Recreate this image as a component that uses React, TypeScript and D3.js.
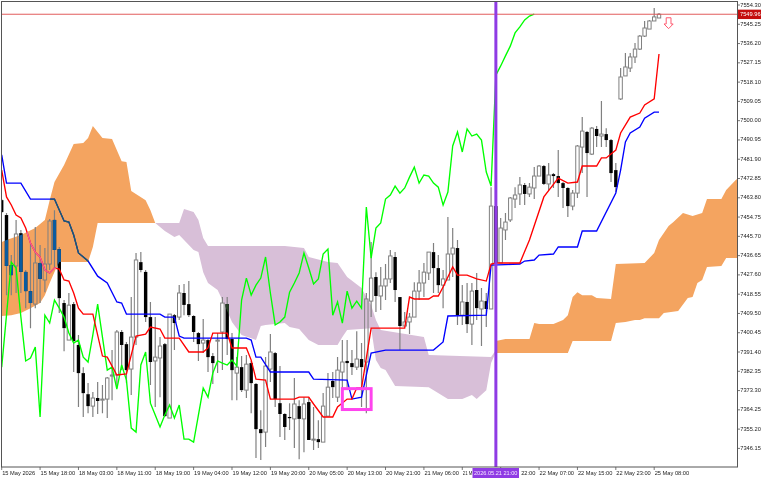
import React from "react";
import * as d3 from "d3";

const highs = [7463.2,7456.6,7436.9,7453.4,7448.7,7429.9,7442.6,7450.1,7441.6,7440.2,7453.8,7458.0,7440.7,7415.8,7419.1,7414.9,7399.4,7384.3,7376.8,7372.6,7377.3,7375.9,7379.7,7392.3,7401.7,7401.7,7396.1,7417.2,7437.9,7438.3,7429.9,7414.9,7407.8,7398.4,7395.6,7409.2,7409.2,7422.8,7423.3,7424.7,7408.7,7400.8,7406.9,7397.5,7390.9,7400.3,7417.2,7417.2,7400.3,7389.0,7389.5,7390.0,7387.2,7376.8,7364.1,7389.0,7399.8,7391.4,7384.8,7362.7,7367.4,7379.2,7368.8,7370.2,7370.2,7365.6,7359.4,7372.1,7381.5,7382.0,7389.0,7397.0,7397.0,7392.3,7401.2,7395.6,7419.1,7443.0,7428.9,7431.3,7432.7,7439.3,7438.3,7417.2,7410.2,7409.7,7424.2,7429.9,7433.2,7438.3,7442.6,7436.9,7429.9,7454.8,7449.6,7444.0,7422.8,7423.8,7423.8,7428.5,7421.4,7419.1,7468.8,7462.7,7454.3,7456.6,7464.2,7468.8,7473.5,7470.7,7470.7,7478.2,7479.2,7479.2,7480.1,7475.4,7486.2,7471.2,7468.8,7467.4,7488.6,7501.7,7495.1,7497.0,7497.5,7509.2,7496.5,7491.4,7480.1,7524.7,7531.8,7531.8,7536.5,7540.2,7546.8,7547.3,7552.9,7550.5];
const lows = [7456.6,7418.1,7418.1,7419.1,7419.1,7412.0,7402.6,7412.0,7414.4,7419.5,7429.9,7430.8,7409.7,7391.8,7397.0,7382.0,7365.6,7360.9,7362.7,7360.9,7362.3,7362.7,7360.4,7368.8,7374.5,7382.9,7376.8,7371.2,7394.7,7428.9,7405.5,7375.9,7365.6,7370.2,7360.9,7360.4,7392.3,7406.4,7408.7,7407.8,7396.1,7387.2,7390.9,7382.0,7376.4,7381.5,7382.9,7390.0,7368.8,7368.8,7372.6,7369.8,7362.7,7341.6,7340.7,7346.8,7377.3,7365.6,7351.5,7350.1,7354.8,7346.3,7341.1,7344.4,7350.1,7345.4,7346.3,7349.1,7361.3,7369.8,7367.9,7372.6,7374.9,7380.6,7382.9,7365.6,7362.7,7407.8,7410.2,7411.1,7415.8,7423.8,7414.9,7392.3,7403.6,7399.8,7407.8,7415.8,7417.2,7425.2,7419.1,7419.1,7412.0,7425.2,7426.6,7404.1,7404.1,7400.3,7394.7,7406.4,7394.2,7403.1,7411.6,7433.2,7433.2,7444.0,7452.4,7459.0,7460.4,7460.4,7464.2,7463.2,7474.0,7469.8,7467.4,7468.4,7464.2,7459.0,7454.8,7458.0,7463.7,7475.4,7464.2,7483.9,7487.6,7487.6,7487.6,7471.2,7466.5,7509.7,7521.0,7522.9,7527.1,7533.2,7539.3,7543.0,7546.8,7548.2];
const opens = [7462.7,7455.7,7432.2,7431.8,7447.2,7429.0,7420.0,7413.9,7433.2,7425.2,7432.7,7453.4,7439.7,7414.4,7397.0,7413.9,7394.7,7381.5,7371.6,7366.0,7369.8,7368.8,7369.3,7380.1,7380.6,7400.8,7395.1,7383.4,7398.4,7433.6,7429.0,7407.8,7387.2,7388.6,7395.1,7360.4,7408.7,7407.8,7419.1,7413.9,7408.3,7400.3,7395.6,7397.0,7389.5,7396.5,7400.8,7413.9,7397.5,7381.5,7384.3,7373.5,7386.2,7376.4,7355.2,7353.8,7383.4,7390.9,7367.4,7362.3,7360.9,7360.0,7366.0,7360.0,7367.9,7350.1,7350.5,7349.1,7361.3,7377.8,7370.2,7382.0,7387.2,7386.2,7384.3,7388.1,7386.7,7415.3,7426.6,7417.7,7422.4,7425.7,7436.0,7417.2,7403.6,7405.5,7407.8,7420.0,7423.8,7428.5,7438.3,7430.8,7422.8,7425.2,7437.4,7440.2,7408.7,7414.9,7404.5,7420.5,7411.6,7415.3,7411.6,7459.9,7433.2,7448.7,7453.4,7463.2,7465.6,7469.8,7465.6,7468.4,7474.0,7478.7,7470.3,7474.9,7474.0,7470.7,7468.4,7459.9,7466.0,7487.6,7494.7,7484.3,7496.1,7492.8,7493.7,7490.9,7476.8,7510.2,7521.0,7524.7,7529.9,7533.6,7539.7,7543.0,7546.8,7548.2];
const closes = [7457.1,7431.8,7427.5,7446.8,7429.0,7420.0,7414.4,7433.2,7425.7,7432.7,7452.9,7439.3,7416.7,7402.6,7413.4,7396.5,7381.5,7372.1,7366.0,7369.8,7368.4,7369.3,7379.2,7380.6,7400.8,7394.7,7382.9,7398.4,7434.6,7429.9,7407.8,7386.7,7389.0,7394.2,7361.3,7409.2,7405.0,7419.1,7413.5,7408.7,7400.8,7395.1,7397.0,7389.0,7386.2,7397.0,7414.4,7397.5,7382.9,7384.3,7373.5,7385.7,7376.8,7355.2,7353.3,7384.8,7391.4,7369.3,7362.3,7356.2,7360.4,7367.0,7360.0,7367.0,7350.1,7350.5,7349.1,7366.0,7374.9,7374.9,7382.9,7386.7,7386.2,7384.3,7388.1,7384.3,7416.3,7426.1,7417.7,7422.4,7425.7,7436.5,7420.5,7403.6,7405.5,7407.8,7420.0,7423.8,7428.9,7438.3,7430.8,7422.8,7425.7,7437.4,7440.2,7408.7,7414.9,7404.5,7420.0,7412.0,7415.3,7411.6,7459.9,7433.2,7449.6,7452.4,7463.7,7465.1,7469.8,7465.6,7468.8,7474.0,7478.7,7470.3,7474.5,7474.0,7470.7,7468.4,7459.9,7466.0,7488.1,7495.1,7484.8,7496.5,7492.8,7493.7,7490.9,7475.4,7468.8,7520.5,7525.2,7529.9,7533.6,7539.7,7543.5,7546.8,7548.7,7549.96];

const tenkanBars = [0,1,2,3,4,5,6,7,8,9,10,11,12,13,14,15,16,17,19,21,22,24,26,28,30,31,33,34,37,39,42,43,44,47,48,51,52,53,55,56,61,62,64,65,67,69,70,72,73,74,75,77,84,85,86,89,90,91,92,94,95,97,99,101,102,103,108,110,113,116,118,120,121,124,125,126,128,129,131,133,134,136,137];
const tenkan = [7476.8,7464.2,7460.4,7455.7,7454.3,7449.6,7442.6,7438.3,7436.0,7429.9,7428.5,7430.8,7430.3,7425.2,7424.7,7419.1,7412.0,7409.2,7409.2,7389.5,7389.0,7380.6,7381.1,7398.9,7399.8,7403.1,7402.2,7397.9,7397.9,7391.4,7391.4,7393.3,7400.3,7400.3,7393.3,7393.3,7387.6,7378.7,7378.2,7369.3,7369.3,7370.2,7370.2,7367.0,7360.9,7360.9,7365.6,7369.3,7369.3,7374.5,7374.5,7402.6,7402.6,7417.2,7416.3,7416.3,7417.7,7417.7,7421.9,7431.3,7427.5,7427.5,7425.7,7424.7,7432.7,7433.2,7433.2,7444.0,7464.2,7473.0,7470.7,7471.2,7478.7,7478.7,7482.5,7482.5,7486.2,7494.2,7501.7,7503.6,7507.4,7510.2,7531.3];

const kijunBars = [0,1,4,6,11,13,14,15,16,18,20,22,24,25,26,33,34,36,37,38,51,52,53,54,56,64,65,72,73,75,77,80,90,92,93,101,102,108,109,111,112,115,116,120,121,124,128,129,130,131,133,134,136,137];
const kijun = [7483.9,7470.7,7470.7,7463.2,7463.2,7452.9,7452.4,7446.3,7437.9,7434.1,7427.0,7423.8,7414.9,7414.4,7409.2,7409.2,7407.8,7407.8,7398.9,7397.9,7397.9,7397.0,7389.0,7389.0,7382.0,7382.0,7378.7,7378.2,7369.3,7370.2,7390.9,7392.3,7392.3,7396.1,7408.3,7408.7,7432.2,7432.7,7434.1,7434.6,7436.9,7437.4,7440.7,7440.7,7448.2,7448.2,7466.0,7476.8,7490.0,7494.2,7497.0,7501.2,7504.0,7504.0];

const chikou = [7384.3,7408.7,7433.6,7430.8,7407.8,7387.2,7388.6,7393.7,7360.9,7408.7,7405.0,7415.8,7412.0,7407.8,7400.3,7395.6,7397.0,7389.0,7386.7,7399.4,7413.9,7398.4,7382.9,7384.3,7374.0,7385.3,7378.2,7355.7,7353.8,7385.3,7391.4,7367.4,7361.8,7356.2,7361.8,7366.5,7360.4,7366.5,7350.5,7350.5,7349.1,7361.8,7374.5,7370.2,7381.5,7387.2,7386.2,7385.3,7387.6,7384.8,7415.8,7426.1,7418.1,7422.8,7426.1,7436.0,7419.1,7404.1,7405.5,7407.8,7419.5,7423.8,7428.5,7437.9,7430.8,7423.3,7425.7,7437.4,7439.7,7408.7,7414.9,7405.0,7420.0,7412.0,7415.3,7412.0,7459.5,7435.5,7449.6,7452.0,7463.2,7465.1,7469.3,7466.0,7468.4,7473.5,7478.2,7470.7,7474.5,7474.0,7470.7,7468.8,7460.4,7466.5,7488.1,7494.7,7485.3,7496.1,7492.8,7493.7,7490.9,7475.9,7469.3,7521.4,7525.7,7530.4,7535.0,7541.2,7544.0,7547.3,7549.1,7550.0];

const bullCloudABars = [0,1,4,7,9,10,11,13,15,17,18,19,21,23,25,26,27,30,31,32];
const bullCloudA = [7443.0,7444.0,7446.3,7449.6,7453.4,7462.7,7471.2,7479.2,7489.0,7489.5,7491.9,7497.5,7491.9,7491.4,7481.0,7480.6,7467.0,7462.7,7458.0,7452.0];
const bullCloudBBars = [0,2,4,6,8,9,10,11,12,18,19,20,32];
const bullCloudB = [7408.3,7408.7,7409.7,7412.0,7414.4,7418.1,7423.8,7429.0,7433.6,7433.6,7440.7,7452.0,7452.0];

const bearCloudBBars = [32,37,38,40,41,42,43,59,63,64,68,70,72,75,76,77,78,79,88,89,102,103];
const bearCloudB = [7452.0,7452.0,7458.5,7457.1,7453.4,7444.9,7441.2,7441.2,7440.2,7436.0,7433.6,7433.2,7426.6,7421.4,7417.2,7413.4,7406.4,7401.7,7398.4,7390.0,7389.0,7392.3];
const bearCloudABars = [32,34,36,37,38,40,41,42,43,45,46,48,50,52,53,54,55,59,60,62,64,66,70,71,72,77,78,79,80,82,89,93,96,98,99,101,102,103];
const bearCloudA = [7452.0,7448.2,7445.4,7446.3,7444.0,7439.3,7438.3,7428.9,7423.8,7420.5,7415.8,7405.5,7399.4,7397.9,7397.0,7403.6,7404.1,7405.0,7403.1,7402.2,7397.0,7394.7,7394.7,7398.4,7401.7,7402.6,7387.6,7383.9,7382.9,7375.4,7374.9,7369.3,7369.3,7371.2,7369.3,7373.5,7386.2,7391.4];

const futureCloudABars = [103,105,110,111,112,115,117,118,119,120,121,123,124,127,128,134,136,137,139,140,142,144,146,147,150,151,153,154];
const futureCloudA = [7396.6,7397.5,7397.5,7405.0,7404.5,7404.5,7406.4,7408.7,7417.2,7419.5,7418.1,7418.1,7416.7,7416.3,7432.7,7433.2,7437.9,7444.0,7450.5,7452.4,7456.6,7455.2,7456.6,7463.2,7463.2,7467.4,7472.1,7474.0];
const futureCloudBBars = [103,118,119,127,128,130,132,133,134,137,138,141,143,144,145,146,147,150,151,153,154];
const futureCloudB = [7390.9,7390.9,7396.6,7396.6,7405.0,7405.5,7406.4,7406.4,7407.3,7407.3,7409.7,7410.6,7416.7,7417.2,7423.8,7425.2,7431.3,7431.8,7435.5,7435.5,7435.5];

const priceTicks = [7554.30,7545.25,7536.20,7527.15,7518.10,7509.05,7500.00,7490.95,7481.90,7472.85,7463.80,7454.75,7445.70,7436.65,7427.60,7418.55,7409.50,7400.45,7391.40,7382.35,7373.30,7364.25,7355.20,7346.15];
// Labels in the picture; the marker tag hides most of the two next to it.
const timeLabels = ["15 May 2026","15 May 18:00","18 May 03:00","18 May 11:00","18 May 19:00","19 May 04:00","19 May 12:00","19 May 20:00","20 May 05:00","20 May 13:00","20 May 21:00","21 May 06:00","21 M","22:00","22 May 07:00","22 May 15:00","22 May 23:00","25 May 08:00"];
const BARS_PER_LABEL = 8;

const lastPrice = 7549.96;
const markerBar = 103;
const markerLabel = "2026.05.21 21:00";
const boxBars = [71, 77];
const boxPrices = [7374.2, 7364.4];
const arrowBar = 139;
const arrowPrices = [7548.3, 7543.2];

const W = 768, H = 480;
const left = 1.5, right = 737.5, top = 1.5, bottom = 467;
const FONT = "'Liberation Sans', Arial, sans-serif";

const x = d3.scaleLinear().domain([0, 137]).range([1.7, 659.0]);
const y = d3.scaleLinear().domain([7554.3, 7346.15]).range([5, 448.4]);

const pts = (bars: number[], vals: number[]) => bars.map((b, i) => [x(b), y(vals[i])] as [number, number]);
const lineGen = d3.line<[number, number]>();
const polyline = (bars: number[], vals: number[]) => lineGen(pts(bars, vals)) as string;
const cloudPath = (aBars: number[], a: number[], bBars: number[], b: number[]) =>
  (lineGen([...pts(aBars, a), ...pts(bBars, b).reverse()]) as string) + "Z";

const bullPath = cloudPath(bullCloudABars, bullCloudA, bullCloudBBars, bullCloudB);
const bearPath = cloudPath(bearCloudBBars, bearCloudB, bearCloudABars, bearCloudA);
const futurePath = cloudPath(futureCloudABars, futureCloudA, futureCloudBBars, futureCloudB);
const tenkanPath = polyline(tenkanBars, tenkan);
const kijunPath = polyline(kijunBars, kijun);
const chikouPath = polyline(chikou.map((_, i) => i), chikou);

const BODY = 3.4;
const GREY = "#808080";
const LINE_W = 1.35;

function Candles() {
  return (
    <g>
      {highs.map((h, i) => {
        const bull = closes[i] >= opens[i];
        const cx = x(i);
        const topY = y(Math.max(opens[i], closes[i]));
        const botY = y(Math.min(opens[i], closes[i]));
        return (
          <g key={i}>
            <line x1={cx} x2={cx} y1={y(h)} y2={topY} stroke={GREY} strokeWidth={1.2} />
            <line x1={cx} x2={cx} y1={botY} y2={y(lows[i])} stroke={GREY} strokeWidth={1.2} />
            {bull ? (
              <rect x={cx - BODY / 2} y={topY} width={BODY} height={Math.max(botY - topY, 1)} fill="none" stroke={GREY} strokeWidth={1} />
            ) : (
              <rect x={cx - BODY / 2} y={topY} width={BODY} height={Math.max(botY - topY, 1.2)} fill="#000" />
            )}
          </g>
        );
      })}
    </g>
  );
}

function BlackBodies({ fill }: { fill: string }) {
  return (
    <g>
      {highs.map((_, i) => {
        if (closes[i] >= opens[i]) return null;
        const topY = y(opens[i]);
        const botY = y(closes[i]);
        return <rect key={i} x={x(i) - BODY / 2} y={topY} width={BODY} height={Math.max(botY - topY, 1.2)} fill={fill} />;
      })}
    </g>
  );
}

export default function App() {
  const lastY = y(lastPrice);
  const mx = x(markerBar);
  const ax = x(arrowBar);
  const a0 = y(arrowPrices[0]);
  const a1 = y(arrowPrices[1]);
  const arrow = lineGen([
    [ax - 2.4, a0], [ax + 2.4, a0], [ax + 2.4, a0 + 6.2], [ax + 4.6, a0 + 6.2],
    [ax, a1], [ax - 4.6, a0 + 6.2], [ax - 2.4, a0 + 6.2],
  ]) + "Z";
  return (
    <svg width={W} height={H} viewBox={`0 0 ${W} ${H}`} style={{ position: "absolute", left: 0, top: 0, background: "#fff" }}>
      <defs>
        <clipPath id="plot"><rect x={left} y={top} width={right - left} height={bottom - top} /></clipPath>
        <clipPath id="bullClip"><path d={bullPath} /></clipPath>
        <clipPath id="bearClip"><path d={bearPath} /></clipPath>
        <filter id="soft" x="0" y="0" width="100%" height="100%" colorInterpolationFilters="sRGB">
          <feGaussianBlur stdDeviation="0.35" />
        </filter>
      </defs>
      <g filter="url(#soft)">
        <rect x={0} y={0} width={W} height={H} fill="#fff" />
        <g clipPath="url(#plot)">
          <path d={bullPath} fill="#f4a460" />
          <path d={bearPath} fill="#d8bfd8" />
          <path d={futurePath} fill="#f4a460" />
          <Candles />
          <g clipPath="url(#bullClip)"><BlackBodies fill="#0b5b9f" /></g>
          <g clipPath="url(#bearClip)"><BlackBodies fill="#274027" /></g>
          <path d={chikouPath} fill="none" stroke="#00ff00" strokeWidth={LINE_W} />
          <path d={kijunPath} fill="none" stroke="#0000ff" strokeWidth={LINE_W} />
          <path d={tenkanPath} fill="none" stroke="#ff0000" strokeWidth={LINE_W} />
          <g clipPath="url(#bullClip)">
            <path d={kijunPath} fill="none" stroke="#1f5f60" strokeWidth={LINE_W} />
            <path d={tenkanPath} fill="none" stroke="#f0609a" strokeWidth={LINE_W} />
          </g>
          <rect
            x={x(boxBars[0])} y={y(boxPrices[0])}
            width={x(boxBars[1]) - x(boxBars[0])} height={y(boxPrices[1]) - y(boxPrices[0])}
            fill="none" stroke="#ff44ee" strokeWidth={3}
          />
          <path d={arrow} fill="#fff" stroke="#ff5a70" strokeWidth={1} />
          <line x1={left} x2={right} y1={lastY} y2={lastY} stroke="#e25c5c" strokeWidth={1} />
          <line x1={mx} x2={mx} y1={top} y2={bottom} stroke="#8f3be4" strokeWidth={3} />
        </g>
        <rect x={left} y={top} width={right - left} height={bottom - top} fill="none" stroke="#555" strokeWidth={1} />
        <g fontFamily={FONT} fontSize={5.7} fill="#222">
          {priceTicks.map((p) => (
            <g key={p}>
              <line x1={right} x2={right + 2.5} y1={y(p)} y2={y(p)} stroke="#555" strokeWidth={0.8} />
              <text x={right + 2.8} y={y(p)} dominantBaseline="middle">{p.toFixed(2)}</text>
            </g>
          ))}
          {timeLabels.map((t, i) => {
            const tx = x(i * BARS_PER_LABEL);
            const shifted = t === "22:00" ? 20 : 0;
            return (
              <g key={t}>
                <line x1={tx} x2={tx} y1={bottom} y2={bottom + 3} stroke="#555" strokeWidth={0.8} />
                {t === "21 M" ? (
                  <text x={tx + 0.5} y={473.3} dominantBaseline="middle" textLength={9.5} lengthAdjust="spacingAndGlyphs">{t}</text>
                ) : (
                  <text x={tx + 0.5 + shifted} y={473.3} dominantBaseline="middle">{t}</text>
                )}
              </g>
            );
          })}
        </g>
        <rect x={472.5} y={468} width={46.5} height={10} fill="#8f3be4" />
        <text x={495.7} y={473.3} textAnchor="middle" dominantBaseline="middle" fontFamily={FONT} fontSize={5.6} fill="#f4e8ff">{markerLabel}</text>
        <rect x={738} y={lastY - 4.6} width={23} height={9.4} fill="#c40d0d" />
        <text x={740} y={lastY + 0.2} dominantBaseline="middle" fontFamily={FONT} fontSize={5.7} fill="#fff">{lastPrice.toFixed(2)}</text>
      </g>
    </svg>
  );
}
